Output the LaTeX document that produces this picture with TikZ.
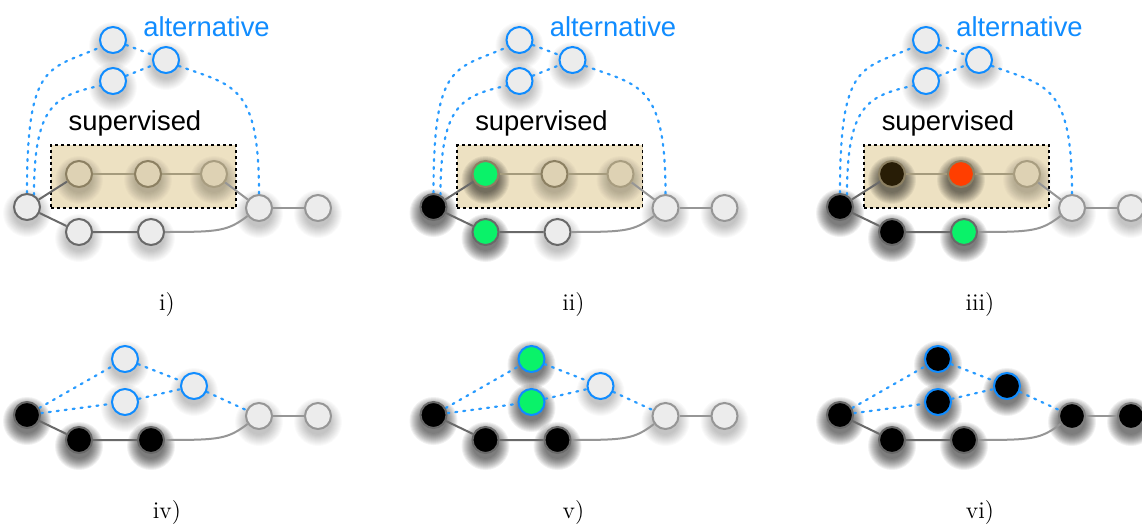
\documentclass[tikz,border=0pt]{standalone}
\usepackage{fontspec}
\newfontfamily\helv{Liberation Sans}
\pgfdeclarelayer{bgfill}
\pgfdeclarelayer{rectfill}
\pgfdeclarelayer{shadow}
\pgfdeclarelayer{background}
\pgfsetlayers{bgfill,rectfill,shadow,background,main}
\definecolor{altblue}{RGB}{16,140,255}
\definecolor{dotblue}{RGB}{40,155,255}
\definecolor{nodefill}{RGB}{236,236,236}
\definecolor{strokedark}{RGB}{105,105,105}
\definecolor{strokelight}{RGB}{150,150,150}
\definecolor{grn}{RGB}{10,242,105}
\definecolor{rdc}{RGB}{255,62,0}
\definecolor{rectc}{RGB}{237,225,194}
\definecolor{tanstroke}{RGB}{140,128,98}
\definecolor{tanstrokel}{RGB}{168,157,128}
\definecolor{tangray}{RGB}{222,210,180}
\definecolor{tanedge}{RGB}{165,155,125}
\definecolor{dbrown}{RGB}{40,29,6}
\tikzset{
  lsh/.style={/utils/exec={\gdef\curshop{0.02}}},
  dsh/.style={/utils/exec={\gdef\curshop{0.055}}},
  base/.style={circle, minimum size=13pt, inner sep=0pt, line width=1pt, draw=strokedark},
  gy/.style={base, fill=nodefill, lsh},
  gyl/.style={base, draw=strokelight, fill=nodefill, lsh},
  bk/.style={base, fill=black, dsh},
  bkl/.style={base, draw=strokelight!85!black, fill=black, dsh},
  gr/.style={base, fill=grn, dsh},
  rdn/.style={base, fill=rdc, dsh},
  sgy/.style={base, draw=tanstroke, fill=tangray, lsh},
  sgyl/.style={base, draw=tanstrokel, fill=tangray, lsh},
  sbk/.style={base, draw=tanstroke, fill=dbrown, dsh},
  sgr/.style={base, draw=tanstroke, fill=grn, dsh},
  srd/.style={base, draw=tanstroke, fill=rdc, dsh},
  alt/.style={draw=altblue},
  edk/.style={line width=1pt, draw=strokedark},
  elt/.style={line width=1pt, draw=strokelight},
  etan/.style={line width=1pt, draw=tanedge},
  dotl/.style={line width=1.1pt, draw=dotblue, line cap=round, dash pattern=on 1pt off 3pt},
  suprect/.style={draw=black, line width=0.9pt, dash pattern=on 1.5pt off 1.5pt, fill=rectc, minimum width=92.6pt, minimum height=31.5pt, inner sep=0pt},
  lab/.style={font=\helv\fontsize{13.7}{16}\selectfont, inner sep=0pt},
  captxt/.style={font=\fontsize{12}{14}\selectfont, inner sep=0pt},
}
\newcommand{\shd}[1]{%
 \begin{pgfonlayer}{shadow}
 \foreach \r in {6.5,7,...,12}{\fill[black, fill opacity=\curshop] ([yshift=-3pt]#1.center) circle[radius=\r pt];}
 \end{pgfonlayer}}
\newcommand{\nd}[3]{\node[#1] (#2) at (#3) {}; \shd{#2}}
\newcommand{\toppanel}[8]{%
\begin{scope}[shift={(#2,0)}]
 \nd{#3}{#1A}{27,207}
 \nd{#4}{#1S1}{79,174}
 \nd{#5}{#1S2}{148,174}
 \nd{#6}{#1S3}{214,174}
 \nd{#7}{#1B1}{79,232}
 \nd{#8}{#1B2}{151,232}
 \nd{gyl}{#1C}{259,208}
 \nd{gyl}{#1D}{318,208}
 \nd{gy,alt}{#1T}{113,40}
 \nd{gy,alt}{#1L}{113,81}
 \nd{gy,alt}{#1R}{166,60}
 \begin{pgfonlayer}{rectfill}
 \node[suprect] (#1Rect) at (143.4,176.5) {};
 \end{pgfonlayer}
 \node[lab] (#1sup) at (135,123) {supervised};
 \node[lab, text=altblue] (#1alt) at (206.5,26.5) {alternative};
 \node[captxt] (#1cap) at (167,305) {#1)};
 \begin{pgfonlayer}{background}
  \draw[edk] (#1A) -- (#1S1);
  \draw[etan] (#1S1) -- (#1S2) -- (#1S3);
  \draw[elt] (#1S3) -- (#1C);
  \draw[edk] (#1A) -- (#1B1) -- (#1B2);
  \draw[elt] (#1B2.east) .. controls +(55,0) and +(-20,15) .. (#1C.215);
  \draw[elt] (#1C) -- (#1D);
  \draw[dotl] (#1A.north) .. controls +(0,-133) and +(-52,23) .. (#1T.210);
  \draw[dotl] (#1A.60) .. controls +(0,-90) and +(-45,10) .. (#1L.200);
  \draw[dotl] (#1R.-25) .. controls +(55,20) and +(0,-110) .. (#1C.north);
  \draw[dotl] (#1T) -- (#1R);
  \draw[dotl] (#1L) -- (#1R);
 \end{pgfonlayer}
\end{scope}}
\newcommand{\botpanel}[9]{%
\begin{scope}[shift={(#2,0)}]
 \nd{#3}{#1A}{27,415}
 \nd{#4}{#1B1}{79,440}
 \nd{#5}{#1B2}{151,440}
 \nd{#6,alt}{#1T}{125,359}
 \nd{#7,alt}{#1L}{125,402}
 \nd{#8,alt}{#1R}{194,386}
 \nd{#9}{#1C}{259,416}
 \nd{#9}{#1D}{318,416}
 \node[captxt] (#1cap) at (167,513) {#1)};
 \begin{pgfonlayer}{background}
  \draw[edk] (#1A) -- (#1B1) -- (#1B2);
  \draw[elt] (#1B2.east) .. controls +(55,0) and +(-20,15) .. (#1C.215);
  \draw[elt] (#1C) -- (#1D);
  \draw[dotl] (#1A) -- (#1T);
  \draw[dotl] (#1A) -- (#1L);
  \draw[dotl] (#1T) -- (#1R);
  \draw[dotl] (#1L) -- (#1R);
  \draw[dotl] (#1R) -- (#1C);
 \end{pgfonlayer}
\end{scope}}
\begin{document}
\begin{tikzpicture}[x=0.5pt, y=-0.5pt]
\begin{pgfonlayer}{bgfill}
\fill[white] (0,0) rectangle (1142,525);
\end{pgfonlayer}
\useasboundingbox (0,0) rectangle (1142,525);
\toppanel{i}{0}{gy}{sgy}{sgy}{sgyl}{gy}{gy}
\toppanel{ii}{406.5}{bk}{sgr}{sgy}{sgyl}{gr}{gy}
\toppanel{iii}{813}{bk}{sbk}{srd}{sgyl}{bk}{gr}
\botpanel{iv}{0}{bk}{bk}{bk}{gy}{gy}{gy}{gyl}
\botpanel{v}{406.5}{bk}{bk}{bk}{gr}{gr}{gy}{gyl}
\botpanel{vi}{813}{bk}{bk}{bk}{bk}{bk}{bk}{bkl}
\end{tikzpicture}
\end{document}
